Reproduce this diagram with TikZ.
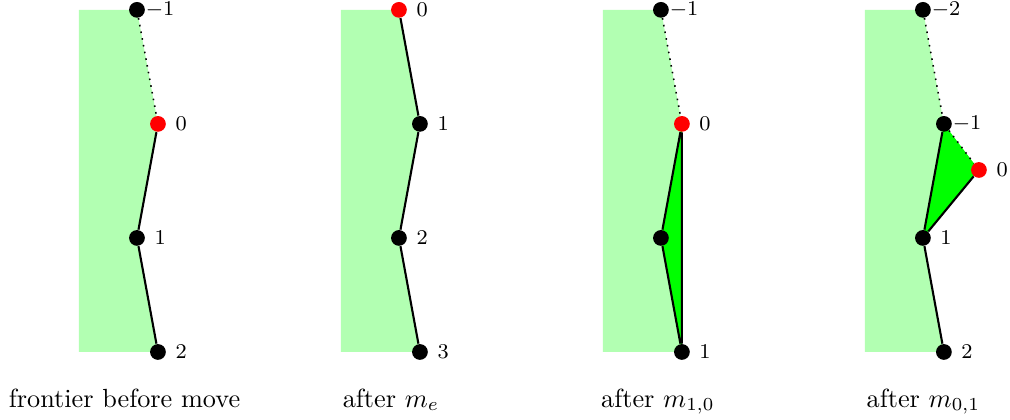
\documentclass[tikz,border=0pt]{standalone}
\usepackage{tikz}
\usetikzlibrary{backgrounds}

\begin{document}
\begin{tikzpicture}[y=1.527cm,
    dot/.style={circle, fill=black, inner sep=0pt, minimum size=6pt},
    cur/.style={dot, fill=red},
    num/.style={font=\footnotesize, xshift=0.31cm},
    movecap/.style={anchor=base},
    seg/.style={line width=0.8pt},
    old/.style={dotted, line width=0.6pt},
    region/.style={fill=green!30},
    flip/.style={fill=green}
]
    \useasboundingbox (-1.834cm,-0.910cm) rectangle (11.690cm,4.713cm);

    % frontier before move
    \node[dot] (am1) at (0,3) {};
    \node[cur] (a0) at (0.281,2) {};
    \node[dot] (a1) at (0,1) {};
    \node[dot] (a2) at (0.281,0) {};
    \node[num] (am1l) at (am1) {$-1$};
    \node[num] (a0l) at (a0) {$0$};
    \node[num] (a1l) at (a1) {$1$};
    \node[num] (a2l) at (a2) {$2$};
    \node[movecap] (acap) at (-0.167cm,-0.737cm) {frontier before move};
    \begin{pgfonlayer}{background}
        \fill[region] (-0.777,0) -- (-0.777,3) -- (am1.center) -- (a0.center) -- (a1.center) -- (a2.center) -- cycle;
        \draw[old] (am1) -- (a0);
        \draw[seg] (a0) -- (a1) -- (a2);
    \end{pgfonlayer}

    % after m_e
    \begin{scope}[xshift=3.508cm]
        \node[cur] (b0) at (0,3) {};
        \node[dot] (b1) at (0.281,2) {};
        \node[dot] (b2) at (0,1) {};
        \node[dot] (b3) at (0.281,0) {};
        \node[num] (b0l) at (b0) {$0$};
        \node[num] (b1l) at (b1) {$1$};
        \node[num] (b2l) at (b2) {$2$};
        \node[num] (b3l) at (b3) {$3$};
        \node[movecap] (bcap) at (-0.107cm,-0.737cm) {after $m_e$};
        \begin{pgfonlayer}{background}
            \fill[region] (-0.777,0) -- (-0.777,3) -- (b0.center) -- (b1.center) -- (b2.center) -- (b3.center) -- cycle;
            \draw[seg] (b0) -- (b1) -- (b2) -- (b3);
        \end{pgfonlayer}
    \end{scope}

    % after m_{1,0}
    \begin{scope}[xshift=7.016cm]
        \node[dot] (cm1) at (0,3) {};
        \node[cur] (c0) at (0.281,2) {};
        \node[dot] (cmid) at (0,1) {};
        \node[dot] (c1) at (0.281,0) {};
        \node[num] (cm1l) at (cm1) {$-1$};
        \node[num] (c0l) at (c0) {$0$};
        \node[num] (c1l) at (c1) {$1$};
        \node[movecap] (ccap) at (-0.04cm,-0.737cm) {after $m_{1,0}$};
        \begin{pgfonlayer}{background}
            \fill[region] (-0.777,0) -- (-0.777,3) -- (cm1.center) -- (c0.center) -- (c1.center) -- cycle;
            \fill[flip] (c0.center) -- (cmid.center) -- (c1.center) -- cycle;
            \draw[old] (cm1) -- (c0);
            \draw[seg] (c0) -- (cmid) -- (c1) -- (c0);
        \end{pgfonlayer}
    \end{scope}

    % after m_{0,1}
    \begin{scope}[xshift=10.524cm]
        \node[dot] (dm2) at (0,3) {};
        \node[dot] (dm1) at (0.281,2) {};
        \node[cur] (d0) at (0.75,1.596) {};
        \node[dot] (d1) at (0,1) {};
        \node[dot] (d2) at (0.281,0) {};
        \node[num] (dm2l) at (dm2) {$-2$};
        \node[num] (dm1l) at (dm1) {$-1$};
        \node[num] (d0l) at (d0) {$0$};
        \node[num] (d1l) at (d1) {$1$};
        \node[num] (d2l) at (d2) {$2$};
        \node[movecap] (dcap) at (0.007cm,-0.737cm) {after $m_{0,1}$};
        \begin{pgfonlayer}{background}
            \fill[region] (-0.777,0) -- (-0.777,3) -- (dm2.center) -- (dm1.center) -- (d1.center) -- (d2.center) -- cycle;
            \fill[flip] (dm1.center) -- (d0.center) -- (d1.center) -- cycle;
            \draw[old] (dm2) -- (dm1) -- (d0);
            \draw[seg] (d0) -- (d1) -- (dm1);
            \draw[seg] (d1) -- (d2);
        \end{pgfonlayer}
    \end{scope}
\end{tikzpicture}
\end{document}
